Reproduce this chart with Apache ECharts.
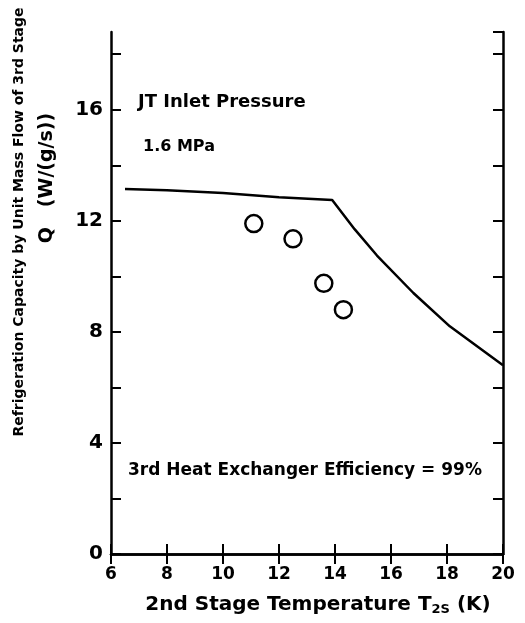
<!DOCTYPE html>
<html><head><meta charset="utf-8">
<script src="https://cdn.jsdelivr.net/npm/echarts@6/dist/echarts.min.js"></script>
<style>html,body{margin:0;padding:0;background:#fff}#c{width:525px;height:623px}</style>
</head><body><div id="c"></div>
<script>
// Model curve (Temperature K, Q W/(g/s))
const curveT = [6.5, 8, 10, 12, 13.9, 14.7, 15.5, 16.8, 18.1, 20];
const curveQ = [13.15, 13.1, 13.0, 12.85, 12.75, 11.7, 10.75, 9.4, 8.2, 6.8];
// Measured points
const measT = [11.1, 12.5, 13.6, 14.3];
const measQ = [11.9, 11.35, 9.75, 8.8];
// Axis ticks
const xTicks = [6, 8, 10, 12, 14, 16, 18, 20];
const yLabelTicks = [0, 4, 8, 12, 16];

const FONT = 'DejaVu Sans';
const chart = echarts.init(document.getElementById('c'));
const axisLine = {show: true, lineStyle: {color: '#000', width: 2.5}};
const tick = {show: true, inside: true, length: 10, lineStyle: {color: '#000', width: 2}};
chart.setOption({
  animation: false,
  backgroundColor: '#fff',
  grid: {left: 111, right: 22, top: 32, bottom: 69},
  xAxis: [
    {type: 'value', min: 6, max: 20, interval: 2, axisLine, axisTick: tick, splitLine: {show: false},
     axisLabel: {color: '#000', fontFamily: FONT, fontWeight: 'bold', fontSize: 17, margin: 12,
       formatter: v => xTicks.includes(v) ? String(v) : ''}},
    {type: 'value', position: 'top', min: 6, max: 20, interval: 2, axisLine, axisTick: tick,
     axisLabel: {show: false}, splitLine: {show: false}}
  ],
  yAxis: [
    {type: 'value', min: 0, max: 18.8, interval: 2, axisLine, axisTick: tick, splitLine: {show: false},
     axisLabel: {color: '#000', fontFamily: FONT, fontWeight: 'bold', fontSize: 20, margin: 8,
       showMaxLabel: false,
       formatter: v => yLabelTicks.includes(v) ? String(v) : ''}},
    {type: 'value', position: 'right', min: 0, max: 18.8, interval: 2, axisLine, axisTick: tick,
     axisLabel: {show: false}, splitLine: {show: false}}
  ],
  series: [
    {type: 'line', data: curveT.map((t, i) => [t, curveQ[i]]), showSymbol: false,
     lineStyle: {color: '#000', width: 2.5}},
    {type: 'scatter', data: measT.map((t, i) => [t, measQ[i]]), symbol: 'circle', symbolSize: 17,
     itemStyle: {color: '#fff', borderColor: '#000', borderWidth: 2.5, opacity: 1}}
  ],
  graphic: [
    {type: 'text', x: 138, y: 102, style: {text: 'JT Inlet Pressure', font: 'bold 18px "DejaVu Sans"', fill: '#000', verticalAlign: 'middle'}},
    {type: 'text', x: 143, y: 147, style: {text: '1.6 MPa', font: 'bold 16px "DejaVu Sans"', fill: '#000', verticalAlign: 'middle'}},
    {type: 'text', x: 128, y: 471, style: {text: '3rd Heat Exchanger Efficiency = 99%', font: 'bold 17px "DejaVu Sans"', fill: '#000', verticalAlign: 'middle'}},
    {type: 'text', x: 19, y: 222, rotation: Math.PI / 2,
     style: {text: 'Refrigeration Capacity by Unit Mass Flow of 3rd Stage', font: 'bold 14px "DejaVu Sans"', fill: '#000', align: 'center', verticalAlign: 'middle'}},
    {type: 'text', x: 47, y: 178, rotation: Math.PI / 2,
     style: {text: 'Q   (W/(g/s))', font: 'bold 19px "DejaVu Sans"', fill: '#000', align: 'center', verticalAlign: 'middle'}},
    {type: 'text', x: 318, y: 605,
     style: {text: '{a|2nd Stage Temperature T}{s|2S}{a| (K)}', align: 'center', verticalAlign: 'middle',
       rich: {a: {font: 'bold 20px "DejaVu Sans"', fill: '#000'}, s: {font: 'bold 13px "DejaVu Sans"', fill: '#000', padding: [10, 0, 0, 0]}}}}
  ]
});
</script></body></html>
